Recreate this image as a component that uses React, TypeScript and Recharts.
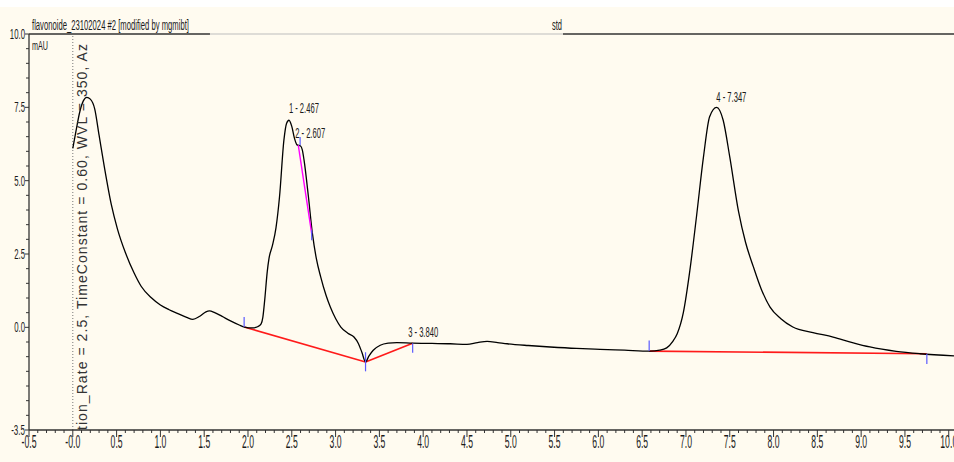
import React from 'react';
import { LineChart, Line, XAxis, YAxis, ReferenceLine, ReferenceDot } from 'recharts';

// ---- Chromatogram trace (time in min, signal in mAU) ----
const times = [
  0.0, 0.04, 0.08, 0.12, 0.16, 0.2, 0.25, 0.3, 0.36, 0.44, 0.51, 0.6, 0.7, 0.78, 0.9, 1.0, 1.1, 1.2, 1.3, 1.37,
  1.45, 1.52, 1.56, 1.62, 1.7, 1.8, 1.9, 1.96, 2.05, 2.11, 2.15, 2.17, 2.19, 2.22, 2.24, 2.28, 2.32, 2.36, 2.41, 2.44, 2.468,
  2.5, 2.53, 2.56, 2.6, 2.62, 2.64, 2.69, 2.735, 2.78, 2.83, 2.89, 2.94, 3.0, 3.06, 3.14, 3.21, 3.26, 3.3, 3.342, 3.38,
  3.43, 3.51, 3.6, 3.7, 3.88, 4.1, 4.31, 4.5, 4.62, 4.73, 4.85, 4.96, 5.2, 5.45, 5.75, 6.02, 6.3, 6.59, 6.7, 6.78,
  6.85, 6.9, 6.97, 7.045, 7.12, 7.2, 7.27, 7.35, 7.425, 7.5, 7.6, 7.68, 7.77, 7.86, 7.96, 8.08, 8.22, 8.45, 8.68, 8.9,
  9.1, 9.4, 9.67, 10.06,
];
const signal = [
  6.1, 6.75, 7.35, 7.72, 7.84, 7.78, 7.45, 6.55, 5.47, 4.18, 3.35, 2.55, 1.85, 1.4, 1.0, 0.76, 0.6, 0.47, 0.34, 0.27,
  0.38, 0.53, 0.56, 0.5, 0.38, 0.22, 0.08, 0.01, -0.02, 0.02, 0.12, 0.35, 0.9, 1.9, 2.35, 2.8, 3.4, 4.45, 6.38, 6.95, 7.06,
  6.85, 6.45, 6.22, 6.18, 6.05, 5.7, 4.45, 3.21, 2.35, 1.72, 1.1, 0.69, 0.3, 0.01, -0.2, -0.33, -0.55, -0.85, -1.18, -0.98,
  -0.78, -0.61, -0.54, -0.52, -0.54, -0.55, -0.56, -0.58, -0.52, -0.48, -0.52, -0.56, -0.62, -0.67, -0.72, -0.75, -0.78, -0.81, -0.78, -0.7,
  -0.48, -0.22, 0.5, 1.95, 3.77, 5.81, 7.18, 7.5, 7.06, 5.81, 3.95, 2.9, 2.06, 1.3, 0.69, 0.3, 0.01, -0.18, -0.33, -0.52,
  -0.67, -0.82, -0.9, -0.97,
];
const data = times.map((t, i) => ({ t, v: signal[i] }));

// ---- Axis ticks ----
const xMajorTicks = [-0.5, 0, 0.5, 1, 1.5, 2, 2.5, 3, 3.5, 4, 4.5, 5, 5.5, 6, 6.5, 7, 7.5, 8, 8.5, 9, 9.5, 10];
const xTickLabels = ['-0.5', '-0.0', '0.5', '1.0', '1.5', '2.0', '2.5', '3.0', '3.5', '4.0', '4.5', '5.0', '5.5', '6.0', '6.5', '7.0', '7.5', '8.0', '8.5', '9.0', '9.5', '10.0'];
const yMajorTicks = [-3.5, 0, 2.5, 5, 7.5, 10];
const yTickLabels = ['-3.5', '0.0', '2.5', '5.0', '7.5', '10.0'];

const xAllTicks: number[] = [];
xMajorTicks.forEach((m, i) => {
  xAllTicks.push(m);
  if (i < xMajorTicks.length - 1) for (let k = 1; k < 5; k++) xAllTicks.push(Math.round((m + k * 0.1) * 10) / 10);
});
const yAllTicks: number[] = [];
yMajorTicks.forEach((m, i) => {
  yAllTicks.push(m);
  if (i < yMajorTicks.length - 1) for (let v = m + 0.5; v < yMajorTicks[i + 1] - 1e-6; v += 0.5) yAllTicks.push(Math.round(v * 10) / 10);
});

// ---- Peaks ----
const peakTimes = [2.467, 2.607, 3.84, 7.347];
const peakHeights = [7.06, 6.18, -0.54, 7.5];
const peakLabels = ['1 - 2.467', '2 - 2.607', '3 - 3.840', '4 - 7.347'];

// integration baselines (red)
const baseSegments = [
  [[1.956, 0.01], [3.342, -1.18]],
  [[3.342, -1.18], [3.88, -0.54]],
  [[6.58, -0.81], [9.75, -0.9]],
];
// peak 2 drop line (magenta)
const dropSegment = [[2.574, 6.21], [2.727, 3.2]];
// peak start/end markers (blue)
const markerTimes = [1.956, 3.342, 3.88, 6.58, 9.75, 2.595, 2.727];
const markerFrom = [0.01, -0.85, -0.54, -0.81, -0.9, 6.21, 3.31];
const markerTo = [0.35, -1.5, -0.87, -0.45, -1.25, 6.49, 2.97];

const NARROW = "'Liberation Sans Narrow', 'Arial Narrow', 'Liberation Sans', Arial, sans-serif";
const AXIS = '#333333';

const charW = (s: string, d: number, dot: number, minus: number) =>
  s.split('').reduce((a, c) => a + (c === '.' ? dot : c === '-' ? minus : c === ' ' ? dot : d), 0);

const XTick = (props: any) => {
  const { x, y, payload } = props;
  const idx = xMajorTicks.findIndex((m) => Math.abs(m - payload.value) < 1e-6);
  if (idx < 0) return <line x1={x} x2={x} y1={y} y2={y + 3} stroke={AXIS} strokeWidth={1} />;
  const label = xTickLabels[idx];
  return (
    <g>
      <line x1={x} x2={x} y1={y} y2={y + 7} stroke={AXIS} strokeWidth={1} />
      <text x={x} y={y + 18} textAnchor="middle" fontSize={19} fontFamily={NARROW} fill="#1a1a1a"
        textLength={charW(label, 5, 2, 3)} lengthAdjust="spacingAndGlyphs">{label}</text>
    </g>
  );
};

const YTick = (props: any) => {
  const { x, y, payload } = props;
  const idx = yMajorTicks.findIndex((m) => Math.abs(m - payload.value) < 1e-6);
  if (idx < 0) return <line x1={x - 3} x2={x} y1={y} y2={y} stroke={AXIS} strokeWidth={1} />;
  const label = yTickLabels[idx];
  return (
    <g>
      <line x1={x - 4} x2={x} y1={y} y2={y} stroke={AXIS} strokeWidth={1} />
      <text x={x - 4} y={y + 5} textAnchor="end" fontSize={15} fontFamily={NARROW} fill="#1a1a1a"
        textLength={charW(label, 4.4, 2, 3)} lengthAdjust="spacingAndGlyphs">{label}</text>
    </g>
  );
};

const PeakLabel = (props: any) => {
  const vb = props.viewBox || {};
  const cx = (vb.x ?? 0) + (vb.width ?? 0) / 2;
  const cy = (vb.y ?? 0) + (vb.height ?? 0) / 2;
  return (
    <text x={cx + (props.dx0 || 0)} y={cy + props.dy0} fontSize={15} fontFamily={NARROW} fill="#1a1a1a"
      textLength={30} lengthAdjust="spacingAndGlyphs">{props.text}</text>
  );
};
const labelDx = [0, -6, -1, 0];
const labelDy = [-7, -8, -6, -5];

export default function App() {
  return (
    <div style={{ position: 'absolute', left: 0, top: 0, width: 954, height: 462, background: '#ffffff', overflow: 'hidden' }}>
      <div style={{ position: 'absolute', left: 0, top: 7, width: 954, height: 455, background: '#FFFBF0' }}>
        <LineChart width={954} height={455} data={data} margin={{ top: 27, right: 0, bottom: 0, left: 0 }}>
          <XAxis type="number" dataKey="t" domain={[-0.5, 10.06]} allowDataOverflow ticks={xAllTicks} interval={0}
            tick={<XTick />} tickLine={false} tickSize={0} tickMargin={0} height={32}
            axisLine={{ stroke: AXIS, strokeWidth: 1.3 }} />
          <YAxis type="number" domain={[-3.5, 10]} allowDataOverflow ticks={yAllTicks} interval={0}
            tick={<YTick />} tickLine={false} tickSize={0} tickMargin={0} width={29}
            axisLine={{ stroke: AXIS, strokeWidth: 1.3 }} />
          <ReferenceLine segment={[{ x: -0.5, y: 10 }, { x: 1.566, y: 10 }]} stroke="#333" strokeWidth={1.3} />
          <ReferenceLine segment={[{ x: 1.566, y: 10 }, { x: 5.596, y: 10 }]} stroke="#bdbdbd" strokeWidth={1} />
          <ReferenceLine segment={[{ x: 5.596, y: 10 }, { x: 10.06, y: 10 }]} stroke="#333" strokeWidth={1.3} />
          <ReferenceLine x={0} stroke="#777" strokeDasharray="1 2" strokeWidth={1} />
          {baseSegments.map((s, i) => (
            <ReferenceLine key={'b' + i} segment={[{ x: s[0][0], y: s[0][1] }, { x: s[1][0], y: s[1][1] }]}
              stroke="#ff1a1a" strokeWidth={1.6} />
          ))}
          <Line type="monotone" dataKey="v" stroke="#000" strokeWidth={1.3} dot={false} isAnimationActive={false} />
          <ReferenceLine segment={[{ x: dropSegment[0][0], y: dropSegment[0][1] }, { x: dropSegment[1][0], y: dropSegment[1][1] }]}
            stroke="#ff00ff" strokeWidth={1.4} />
          {markerTimes.map((t, i) => (
            <ReferenceLine key={'m' + i} segment={[{ x: t, y: markerFrom[i] }, { x: t, y: markerTo[i] }]}
              stroke="#5a5aff" strokeWidth={1.2} />
          ))}
          {peakTimes.map((t, i) => (
            <ReferenceDot key={'p' + i} x={t} y={peakHeights[i]} r={1} fill="none" stroke="none"
              label={<PeakLabel text={peakLabels[i]} dx0={labelDx[i]} dy0={labelDy[i]} />} />
          ))}
        </LineChart>
      </div>
      <svg width={954} height={462} style={{ position: 'absolute', left: 0, top: 0, pointerEvents: 'none' }}>
        <text x={32} y={30} fontSize={14} fontFamily={NARROW} fill="#1a1a1a" textLength={157} lengthAdjust="spacingAndGlyphs">
          flavonoide_23102024 #2 [modified by mgmibt]
        </text>
        <text x={552} y={30} fontSize={14} fontFamily={NARROW} fill="#1a1a1a" textLength={10} lengthAdjust="spacingAndGlyphs">std</text>
        <text x={32} y={50} fontSize={13} fontFamily={NARROW} fill="#1a1a1a" textLength={16} lengthAdjust="spacingAndGlyphs">mAU</text>
        <text x={0} y={0} transform="translate(87 430) rotate(-90)" fontSize={14}
          fontFamily="'Liberation Sans', Arial, sans-serif" fill="#333" textLength={386} lengthAdjust="spacing">
          tion_Rate = 2.5, TimeConstant = 0.60, WVL = 350, Az
        </text>
      </svg>
    </div>
  );
}
